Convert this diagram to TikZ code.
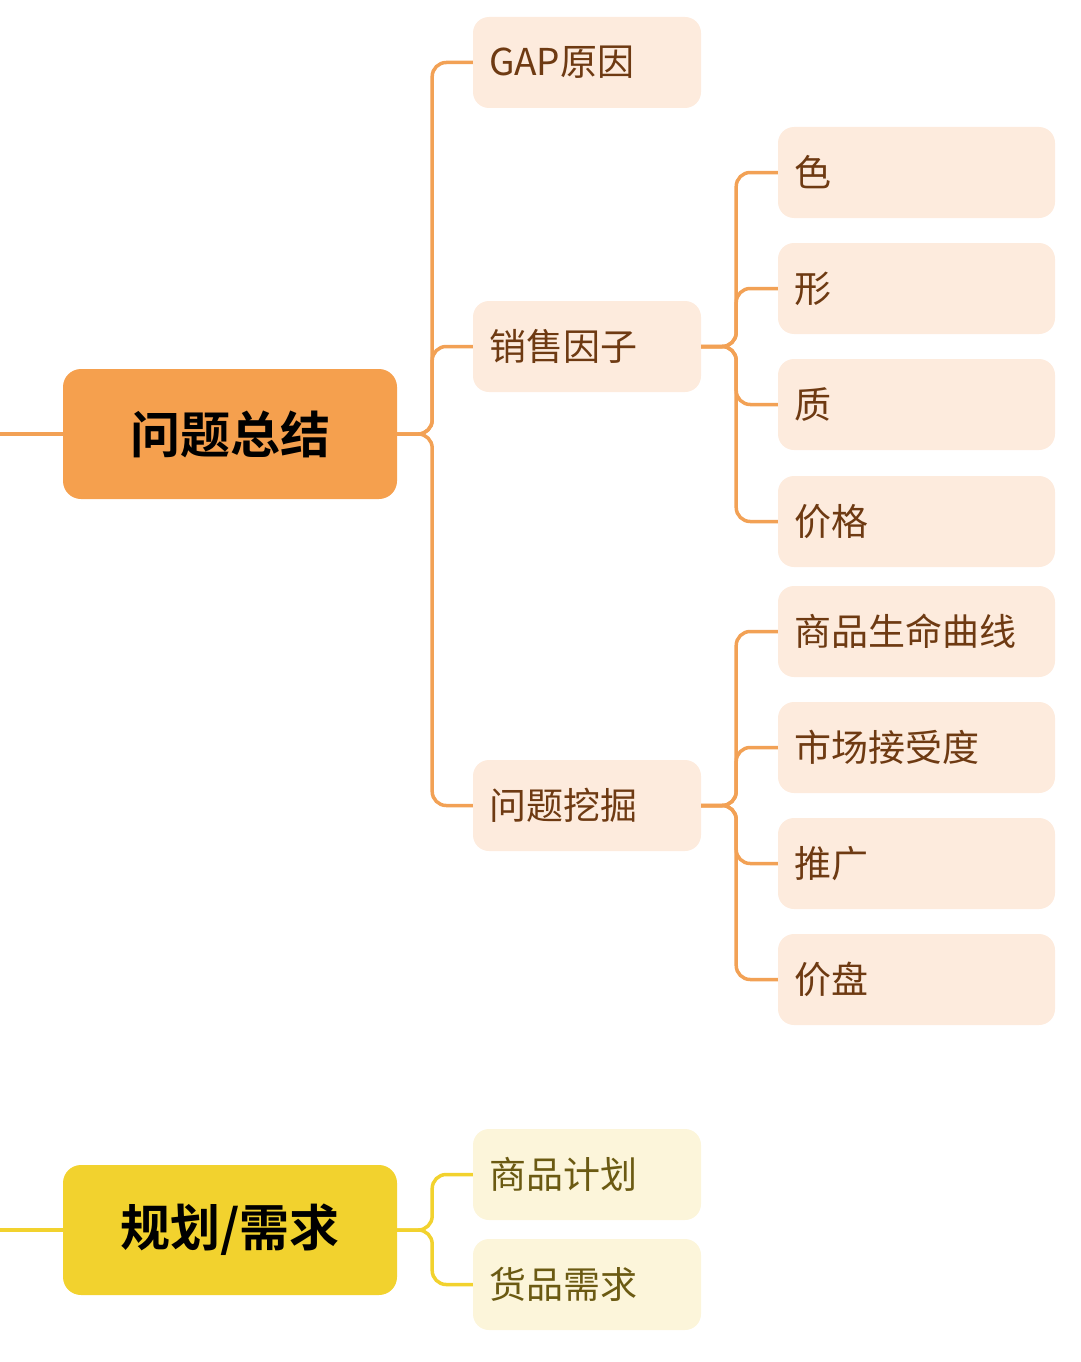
\documentclass[tikz,border=0pt]{standalone}
\usepackage{fontspec}
\newfontfamily\cjk{Noto Sans CJK SC}[BoldFont={Noto Sans CJK SC Bold}]
\definecolor{orangeMain}{HTML}{F5A04E}
\definecolor{orangeLine}{HTML}{F2A155}
\definecolor{orangeLeaf}{HTML}{FDEBDD}
\definecolor{orangeText}{HTML}{6E3A12}
\definecolor{yellowMain}{HTML}{F2D22E}
\definecolor{yellowLine}{HTML}{F2D22E}
\definecolor{yellowLeaf}{HTML}{FCF5DA}
\definecolor{yellowText}{HTML}{6B5A12}
\tikzset{
  topic/.style={rounded corners=18pt,minimum width=334pt,minimum height=130pt,
    font=\cjk\bfseries\fontsize{50}{50}\selectfont,text=black,inner sep=0pt},
  sub/.style={rounded corners=16pt,minimum width=228pt,minimum height=91pt,
    text width=196pt,align=left,font=\cjk\fontsize{37}{37}\selectfont,inner sep=0pt},
  leaf/.style={rounded corners=16pt,minimum width=277pt,minimum height=91pt,
    text width=245pt,align=left,font=\cjk\fontsize{37}{37}\selectfont,inner sep=0pt},
  branch/.style={line width=3.5pt,rounded corners=14pt},
}
\begin{document}
\begin{tikzpicture}[x=1pt,y=-1pt]
	\useasboundingbox (0,0) rectangle (1080,1362);
	% main topics
	\node[topic,fill=orangeMain] (sum) at (230,434) {问题总结};
	\node[topic,fill=yellowMain] (plan) at (230,1230) {规划/需求};
	% second level
	\begin{scope}[every node/.style={sub,fill=orangeLeaf,text=orangeText}]
		\node (gap) at (587,62.5) {GAP原因};
		\node (factor) at (587,346.5) {销售因子};
		\node (dig) at (587,805.5) {问题挖掘};
	\end{scope}
	\begin{scope}[every node/.style={sub,fill=yellowLeaf,text=yellowText}]
		\node (goods) at (587,1174.5) {商品计划};
		\node (need) at (587,1284.5) {货品需求};
	\end{scope}
	% leaves
	\begin{scope}[every node/.style={leaf,fill=orangeLeaf,text=orangeText}]
		\node (color) at (916.5,172.5) {色};
		\node (shape) at (916.5,288.5) {形};
		\node (qual) at (916.5,404.5) {质};
		\node (price) at (916.5,521.5) {价格};
		\node (life) at (916.5,631.5) {商品生命曲线};
		\node (market) at (916.5,747.5) {市场接受度};
		\node (promo) at (916.5,863.5) {推广};
		\node (pan) at (916.5,979.5) {价盘};
	\end{scope}
	% connectors
	\coordinate (inA) at (0,434);
	\coordinate (inB) at (0,1230);
	\draw[branch,orangeLine] (inA) -- (sum.west);
	\draw[branch,yellowLine] (inB) -- (plan.west);
	\foreach \c in {gap,factor,dig}
		\draw[branch,orangeLine] (sum.east) -- ++(35,0) |- (\c.west);
	\foreach \c in {color,shape,qual,price}
		\draw[branch,orangeLine] (factor.east) -- ++(35,0) |- (\c.west);
	\foreach \c in {life,market,promo,pan}
		\draw[branch,orangeLine] (dig.east) -- ++(35,0) |- (\c.west);
	\foreach \c in {goods,need}
		\draw[branch,yellowLine] (plan.east) -- ++(35,0) |- (\c.west);
\end{tikzpicture}
\end{document}
